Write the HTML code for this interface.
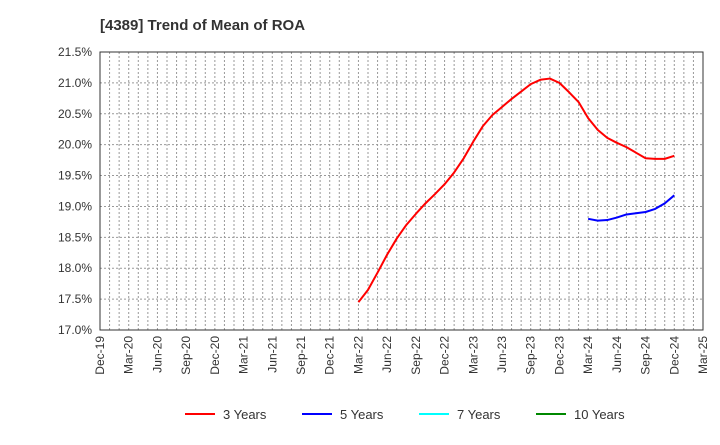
<!DOCTYPE html>
<html><head><meta charset="utf-8"><style>
body{margin:0;background:#fff;font-family:"Liberation Sans",sans-serif}
svg text{font-family:"Liberation Sans",sans-serif}
</style></head><body>
<svg id="c" width="720" height="440">
<text x="100" y="30" font-size="15" font-weight="bold" fill="#333">[4389]  Trend of Mean of ROA</text>
</svg>
<script>
const yTicks=[17.0,17.5,18.0,18.5,19.0,19.5,20.0,20.5,21.0,21.5];
const xLabels=["Dec-19","Mar-20","Jun-20","Sep-20","Dec-20","Mar-21","Jun-21","Sep-21","Dec-21","Mar-22","Jun-22","Sep-22","Dec-22","Mar-23","Jun-23","Sep-23","Dec-23","Mar-24","Jun-24","Sep-24","Dec-24","Mar-25"];
const red3=[17.45,17.65,17.93,18.22,18.48,18.7,18.88,19.05,19.2,19.36,19.55,19.78,20.05,20.3,20.48,20.61,20.74,20.86,20.98,21.05,21.07,21.0,20.85,20.69,20.43,20.24,20.11,20.03,19.96,19.87,19.78,19.77,19.77,19.82];
const red3Start=27;
const blue5=[18.8,18.77,18.78,18.82,18.87,18.89,18.91,18.96,19.05,19.18];
const blue5Start=51;
const L=100,R=703,T=52,B=330,NM=63;
const X=m=>L+(R-L)*m/NM;
const Y=v=>B-(v-17)/(4.5)*(B-T);
const svg=document.getElementById('c');
const NS='http://www.w3.org/2000/svg';
function mk(t,a){const e=document.createElementNS(NS,t);for(const k in a)e.setAttribute(k,a[k]);svg.appendChild(e);return e;}
for(let m=1;m<NM;m++){const g=mk('line',{x1:X(m),x2:X(m),y1:T,y2:B,stroke:'#999','stroke-dasharray':'2,2','stroke-width':1});

}
yTicks.forEach(v=>{if(v>17&&v<21.5){const g=mk('line',{x1:L,x2:R,y1:Y(v),y2:Y(v),stroke:'#999','stroke-dasharray':'2,2'});

}
const t=mk('text',{x:L-8,y:Y(v)+4,'text-anchor':'end','font-size':12,fill:'#333'});t.textContent=v.toFixed(1)+'%';

});
const fr=mk('rect',{x:L,y:T,width:R-L,height:B-T,fill:'none',stroke:'#333'});


xLabels.forEach((s,i)=>{const x=X(i*3);const t=mk('text',{transform:`translate(${x+4},${B+6}) rotate(-90)`,'text-anchor':'end','font-size':12,fill:'#333'});t.textContent=s;

});
function line(arr,start,col,name){const p=arr.map((v,i)=>X(start+i)+','+Y(v)).join(' ');
const e=mk('polyline',{points:p,fill:'none',stroke:col,'stroke-width':2,'stroke-linejoin':'round'});

}
line(red3,red3Start,'#f00','line-3-years');
line(blue5,blue5Start,'#00f','line-5-years');
const leg=[["3 Years","#f00",185],["5 Years","#00f",302],["7 Years","#0ff",419],["10 Years","#080",536]];
leg.forEach(([s,c,x])=>{const l=mk('line',{x1:x,x2:x+30,y1:414,y2:414,stroke:c,'stroke-width':2});


const t=mk('text',{x:x+38,y:419,'font-size':13,fill:'#333'});t.textContent=s;

});
</script>
</body></html>
